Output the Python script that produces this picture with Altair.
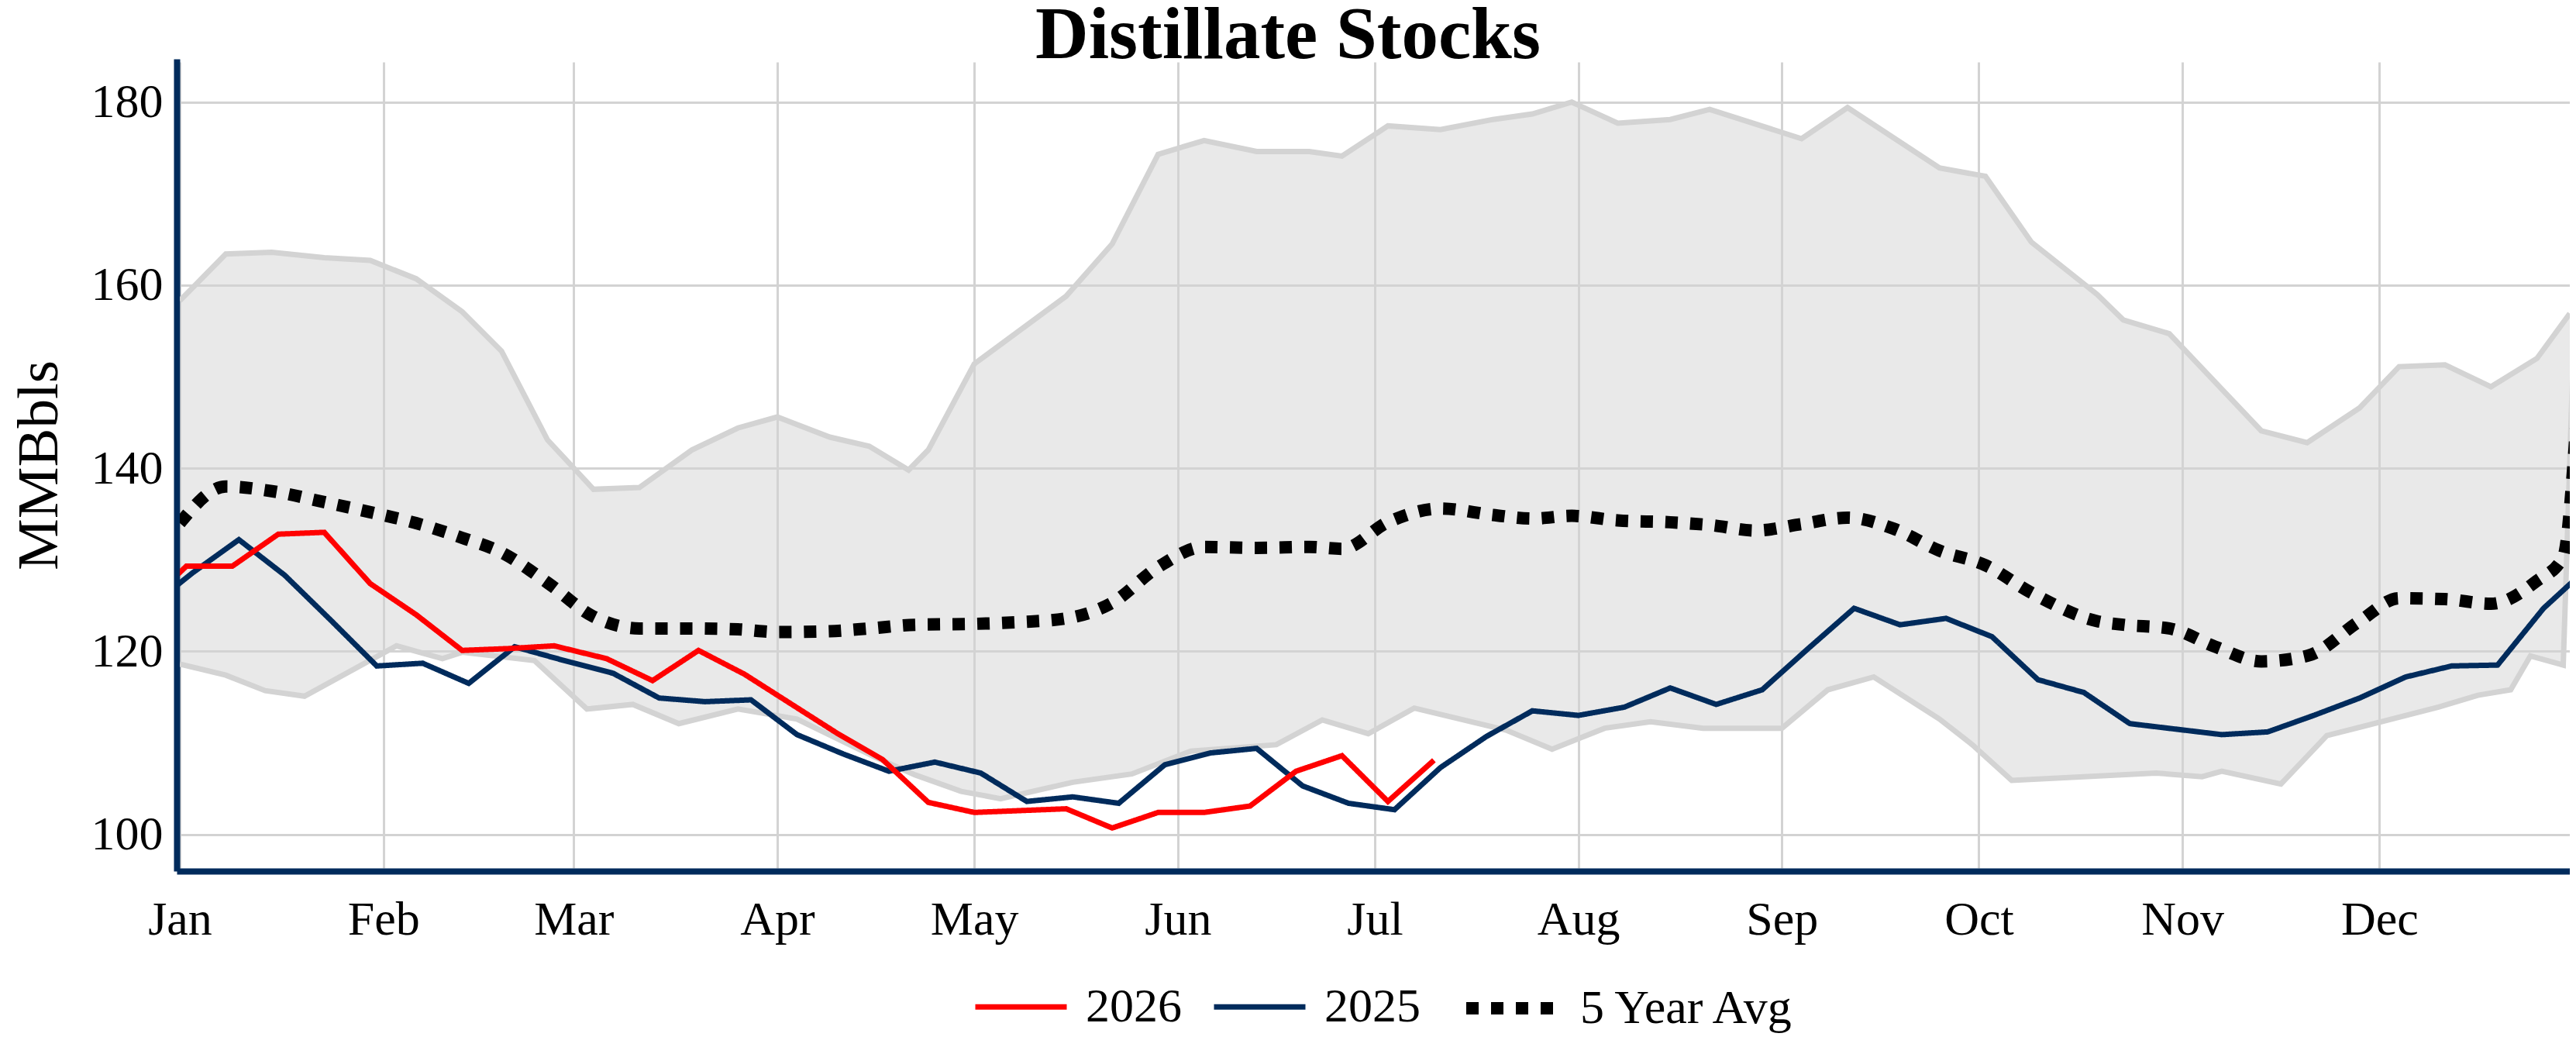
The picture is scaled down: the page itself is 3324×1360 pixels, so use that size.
import altair as alt
import pandas as pd

FONT = "Liberation Serif"
NAVY = "#002B5C"
RED = "#FF0000"
GRID = "#D3D3D3"

chart_title = "Distillate Stocks"

# ---- 5-year range, upper edge ----
upper_dates = ["2024-01-01","2024-01-08","2024-01-15","2024-01-23","2024-01-30","2024-02-06","2024-02-13",
               "2024-02-19","2024-02-26","2024-03-04","2024-03-11","2024-03-19","2024-03-26","2024-04-01",
               "2024-04-09","2024-04-15","2024-04-21","2024-04-24","2024-05-01","2024-05-15","2024-05-22",
               "2024-05-29","2024-06-05","2024-06-13","2024-06-21","2024-06-26","2024-07-03","2024-07-11",
               "2024-07-19","2024-07-25","2024-07-31","2024-08-07","2024-08-15","2024-08-21","2024-09-04",
               "2024-09-11","2024-09-25","2024-10-02","2024-10-09","2024-10-19","2024-10-23","2024-10-30",
               "2024-11-13","2024-11-20","2024-11-28","2024-12-04","2024-12-11","2024-12-18","2024-12-25",
               "2024-12-30"]
upper_vals = [158.3,163.4,163.6,163.0,162.7,160.7,157.1,152.8,143.1,137.7,137.9,142.0,144.4,145.6,
              143.4,142.4,139.8,142.0,151.4,158.8,164.5,174.3,175.8,174.6,174.6,174.1,177.4,177.0,
              178.1,178.7,180.0,177.7,178.1,179.2,176.0,179.4,172.8,171.9,164.7,159.0,156.2,154.7,
              144.1,142.8,146.6,151.1,151.3,148.9,152.0,156.9]

# ---- 5-year range, lower edge ----
lower_dates = ["2024-01-01","2024-01-08","2024-01-14","2024-01-20","2024-02-03","2024-02-10","2024-02-13",
               "2024-02-24","2024-03-03","2024-03-10","2024-03-17","2024-03-26","2024-04-04","2024-04-16",
               "2024-04-22","2024-04-29","2024-05-05","2024-05-16","2024-05-25","2024-06-03","2024-06-16",
               "2024-06-23","2024-06-30","2024-07-07","2024-07-21","2024-07-28","2024-08-05","2024-08-12",
               "2024-08-20","2024-09-01","2024-09-08","2024-09-15","2024-09-25","2024-09-30","2024-10-06",
               "2024-10-28","2024-11-04","2024-11-07","2024-11-16","2024-11-23","2024-12-10","2024-12-16",
               "2024-12-21","2024-12-24","2024-12-29","2024-12-31"]
lower_vals = [118.6,117.4,115.7,115.1,120.6,119.2,119.9,119.0,113.7,114.2,112.1,113.7,112.6,108.4,
              106.5,104.7,103.9,105.7,106.6,109.1,109.8,112.5,111.0,113.8,111.4,109.3,111.6,112.3,
              111.6,111.6,115.8,117.2,112.6,109.8,105.9,106.7,106.3,106.9,105.5,110.8,113.9,115.2,
              115.8,119.5,118.5,163.0]

# ---- 5 Year Avg ----
avg_dates = ["2024-01-01","2024-01-08","2024-01-15","2024-01-23","2024-01-30","2024-02-06","2024-02-13",
             "2024-02-19","2024-02-26","2024-03-04","2024-03-11","2024-03-19","2024-03-26","2024-04-01",
             "2024-04-09","2024-04-15","2024-04-22","2024-05-01","2024-05-08","2024-05-15","2024-05-22",
             "2024-05-29","2024-06-05","2024-06-13","2024-06-21","2024-06-26","2024-07-03","2024-07-11",
             "2024-07-19","2024-07-25","2024-07-31","2024-08-07","2024-08-15","2024-08-21","2024-08-28",
             "2024-09-04","2024-09-11","2024-09-18","2024-09-25","2024-10-02","2024-10-09","2024-10-19",
             "2024-10-23","2024-10-30","2024-11-06","2024-11-13","2024-11-20","2024-11-28","2024-12-04",
             "2024-12-11","2024-12-18","2024-12-25","2024-12-29","2024-12-31"]
avg_vals = [134.0,138.0,137.5,136.3,135.2,134.0,132.4,130.8,127.5,123.8,122.5,122.5,122.4,122.1,
            122.2,122.5,122.9,123.0,123.2,123.6,125.3,129.2,131.4,131.3,131.4,131.2,134.1,135.6,
            134.9,134.5,134.8,134.3,134.1,133.8,133.2,133.9,134.6,133.4,131.0,129.4,126.4,123.3,
            122.9,122.5,120.5,118.9,119.5,123.3,125.8,125.7,125.2,127.7,130.3,145.0]

# ---- 2026 (weekly, placed on the same calendar) ----
y2026_dates = ["2023-12-26","2024-01-02","2024-01-09","2024-01-16","2024-01-23","2024-01-30","2024-02-06",
               "2024-02-13","2024-02-20","2024-02-27","2024-03-06","2024-03-13","2024-03-20","2024-03-27",
               "2024-04-03","2024-04-10","2024-04-17","2024-04-24","2024-05-01","2024-05-08","2024-05-15",
               "2024-05-22","2024-05-29","2024-06-05","2024-06-12","2024-06-19","2024-06-26","2024-07-03",
               "2024-07-10"]
y2026_vals = [124.5,129.3,129.3,132.8,133.0,127.4,124.0,120.1,120.3,120.6,119.2,116.8,120.1,117.5,
              114.3,111.1,108.2,103.5,102.4,102.6,102.8,100.7,102.4,102.4,103.1,106.9,108.6,103.6,108.1]

# ---- 2025 ----
y2025_dates = ["2023-12-27","2024-01-03","2024-01-10","2024-01-17","2024-01-24","2024-01-31","2024-02-07",
               "2024-02-14","2024-02-21","2024-02-28","2024-03-07","2024-03-14","2024-03-21","2024-03-28",
               "2024-04-04","2024-04-11","2024-04-18","2024-04-25","2024-05-02","2024-05-09","2024-05-16",
               "2024-05-23","2024-05-30","2024-06-06","2024-06-13","2024-06-20","2024-06-27","2024-07-04",
               "2024-07-11","2024-07-18","2024-07-25","2024-08-01","2024-08-08","2024-08-15","2024-08-22",
               "2024-08-29","2024-09-05","2024-09-12","2024-09-19","2024-09-26","2024-10-03","2024-10-10",
               "2024-10-17","2024-10-24","2024-10-31","2024-11-07","2024-11-14","2024-11-21","2024-11-28",
               "2024-12-05","2024-12-12","2024-12-19","2024-12-26","2025-01-02"]
y2025_vals = [124.6,128.6,132.2,128.3,123.4,118.4,118.7,116.5,120.5,119.1,117.6,114.9,114.5,114.7,
              110.9,108.8,106.9,107.9,106.7,103.6,104.1,103.4,107.6,108.9,109.4,105.3,103.4,102.7,
              107.3,110.7,113.5,113.0,113.9,116.0,114.2,115.8,120.3,124.7,122.9,123.6,121.6,116.9,
              115.5,112.1,111.5,110.9,111.2,113.0,114.9,117.2,118.4,118.5,124.7,129.3]

series_names = ["2026", "2025", "5 Year Avg"]
series_colors = [RED, NAVY, "#000000"]
series_dash = [[1, 0], [1, 0], [16, 16]]
series_width = [7, 7, 16]
y_ticks = [100, 120, 140, 160, 180]


def frame(dates, vals, name):
    return pd.DataFrame({"date": [d + "T00:00:00" for d in dates], "value": vals, "series": name})


band_upper = frame(upper_dates, upper_vals, "upper")
band_lower = frame(lower_dates, lower_vals, "lower")
poly = pd.concat([band_upper, band_lower.iloc[::-1]], ignore_index=True)
poly["i"] = range(len(poly))
band_edges = pd.concat([band_upper, band_lower], ignore_index=True)

x_scale = alt.Scale(domain=[alt.DateTime(year=2024, month=1, date=1),
                            alt.DateTime(year=2024, month=12, date=30)], nice=False)
y_scale = alt.Scale(domain=[96.33, 184.38], nice=False, zero=False)

x_axis = alt.Axis(title=None, values=[alt.DateTime(year=2024, month=m, date=1) for m in range(1, 13)],
                  format="%b", labelFlush=False, labelOverlap=False, ticks=False, tickSize=0,
                  domainColor=NAVY, domainWidth=8, domainCap="square", offset=4, labelPadding=32,
                  grid=True, gridColor=GRID, gridWidth=3, labelFontSize=62, labelFont=FONT,
                  labelColor="black")
y_axis = alt.Axis(title="MMBbls", values=y_ticks, ticks=False, tickSize=0, domainColor=NAVY,
                  domainWidth=8, domainCap="square", offset=4, labelPadding=18, titlePadding=28,
                  titleFontSize=75, titleFont=FONT, titleFontWeight="normal", titleColor="black",
                  grid=True, gridColor=GRID, gridWidth=3, labelFontSize=62, labelFont=FONT,
                  labelColor="black")

X = alt.X("date:T", scale=x_scale, axis=x_axis)
Yv = alt.Y("value:Q", scale=y_scale, axis=y_axis)

legend = alt.Legend(title=None, orient="none", legendX=1023, legendY=1154, direction="horizontal",
                    symbolType="stroke", symbolSize=13924, labelFontSize=62, labelFont=FONT,
                    labelColor="black", labelOffset=21, columnPadding=27, padding=0, labelLimit=0)
color = alt.Color("series:N", scale=alt.Scale(domain=series_names, range=series_colors), legend=legend)
dash = alt.StrokeDash("series:N", scale=alt.Scale(type="ordinal", domain=series_names, range=series_dash),
                      legend=legend)
width = alt.StrokeWidth("series:N", scale=alt.Scale(type="ordinal", domain=series_names, range=series_width),
                        legend=legend)

fill_layer = alt.Chart(poly).mark_line(fill=GRID, fillOpacity=0.5, strokeWidth=0, clip=True).encode(
    x=X, y=Yv, order=alt.Order("i:Q"))

edge_layer = alt.Chart(band_edges).mark_line(color=GRID, strokeWidth=7, clip=True).encode(
    x=X, y=Yv, detail="series:N")

avg_layer = alt.Chart(frame(avg_dates, avg_vals, "5 Year Avg")).mark_line(
    interpolate="monotone", clip=True).encode(x=X, y=Yv, color=color, strokeDash=dash, strokeWidth=width)

navy_layer = alt.Chart(frame(y2025_dates, y2025_vals, "2025")).mark_line(clip=True).encode(
    x=X, y=Yv, color=color, strokeDash=dash, strokeWidth=width)

red_layer = alt.Chart(frame(y2026_dates, y2026_vals, "2026")).mark_line(clip=True).encode(
    x=X, y=Yv, color=color, strokeDash=dash, strokeWidth=width)

# chart heading, centred on the full figure width
title_layer = alt.Chart(pd.DataFrame({"t": [chart_title]})).mark_text(
    font=FONT, fontSize=95, fontWeight="bold", color="black", align="center", baseline="alphabetic"
).encode(text="t:N", x=alt.value(1430), y=alt.value(-5))

chart = alt.layer(fill_layer, edge_layer, avg_layer, navy_layer, red_layer, title_layer).properties(
    width=3084, height=1040,
    padding={"left": 224, "top": 72, "right": 0, "bottom": 232},
    autosize=alt.AutoSizeParams(type="none"),
    background="white",
).configure_view(strokeWidth=0)

chart.save("out.html", embed_options={"renderer": "svg", "actions": False})
